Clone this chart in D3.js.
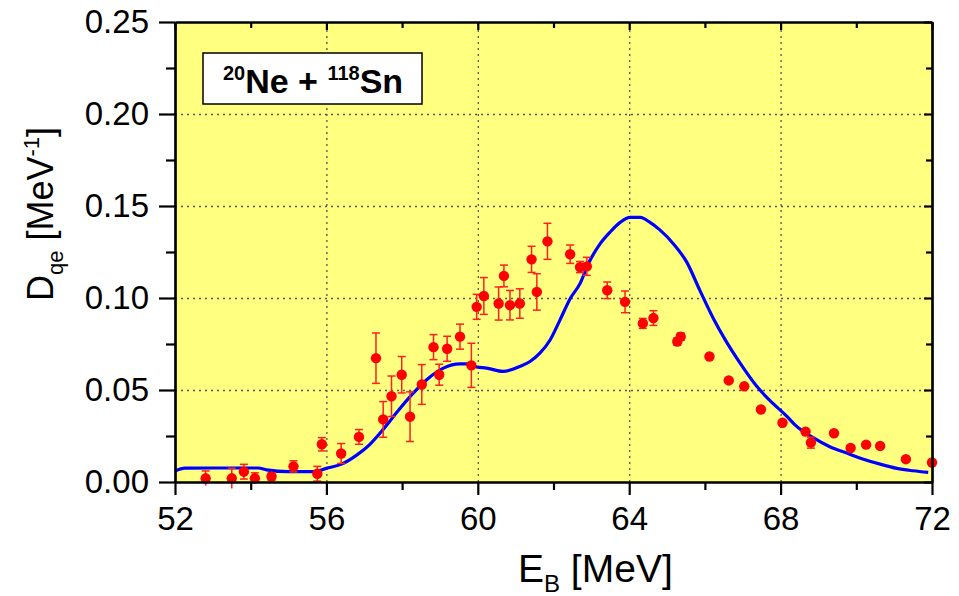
<!DOCTYPE html>
<html>
<head>
<meta charset="utf-8">
<script src="https://cdn.jsdelivr.net/npm/d3@7"></script>
<style>
  body { margin: 0; background: #fff; }
  svg text { font-family: "Liberation Sans", Arial, sans-serif; fill: #000; }
  .axis path, .axis line { stroke: #000; stroke-width: 2.2; }
  .axis text { font-size: 33px; }
  .grid line { stroke: #555; stroke-width: 1.3; stroke-dasharray: 2, 4; }
  .grid path { display: none; }
</style>
</head>
<body>
<div id="chart"></div>
<script>
// Experimental points (E_B in MeV, D_qe in 1/MeV, error)
var expE = [52.81, 53.50, 53.82, 54.11, 54.55, 55.13, 55.76, 55.88, 56.39, 56.86,
  57.31, 57.50, 57.72, 57.99, 58.21, 58.52, 58.83, 58.98, 59.19, 59.53,
  59.83, 59.97, 60.16, 60.55, 60.69, 60.85, 61.11, 61.42, 61.56, 61.84,
  62.44, 62.70, 62.88, 63.42, 63.89, 64.36, 64.64, 65.27, 65.36, 66.12,
  66.63, 67.04, 67.48, 68.05, 68.66, 68.80, 69.41, 69.85, 70.26, 70.63,
  71.31, 72.00];
var expD = [0.002, 0.002, 0.0056, 0.002, 0.003, 0.0085, 0.0045, 0.0205, 0.0155, 0.0245,
  0.0673, 0.034, 0.0466, 0.0583, 0.0355, 0.053, 0.0733, 0.0583, 0.0724, 0.079,
  0.0634, 0.0952, 0.1011, 0.097, 0.112, 0.0961, 0.097, 0.121, 0.1033, 0.1308,
  0.1238, 0.1168, 0.1172, 0.1042, 0.0979, 0.0862, 0.0891, 0.0763, 0.079, 0.0682,
  0.0552, 0.052, 0.0394, 0.0322, 0.0274, 0.0214, 0.0265, 0.0185, 0.0203, 0.0196,
  0.0124, 0.0106];
var expErr = [0.004, 0.0055, 0.004, 0.003, 0.002, 0.003, 0.004, 0.0036, 0.0054, 0.004,
  0.0137, 0.0097, 0.011, 0.0099, 0.0135, 0.0108, 0.0068, 0.0057, 0.0068, 0.0068,
  0.012, 0.0068, 0.010, 0.009, 0.0059, 0.008, 0.008, 0.0071, 0.0099, 0.0098,
  0.005, 0.003, 0.0049, 0.0045, 0.0059, 0.0027, 0.004, 0.002, 0.002, 0,
  0, 0, 0, 0, 0, 0.003, 0, 0, 0, 0,
  0, 0];

// Calculated curve
var calcE = [52.0, 52.26, 53.0, 54.2, 54.42, 55.0, 55.65, 56.0, 56.4, 56.8,
  57.15, 57.5, 57.85, 58.3, 58.65, 59.09, 59.53, 59.71, 59.97, 60.23,
  60.67, 61.11, 61.38, 61.64, 61.91, 62.17, 62.45, 62.70, 62.92, 63.23,
  63.49, 63.76, 64.02, 64.29, 64.55, 64.81, 65.17, 65.52, 65.87, 66.22,
  66.53, 66.93, 67.37, 67.72, 68.16, 68.38, 68.86, 69.30, 69.75, 70.19,
  70.63, 71.07, 71.5, 71.9];
var calcD = [0.006, 0.0075, 0.0076, 0.0076, 0.0066, 0.0056, 0.0056, 0.0074, 0.0097, 0.0146,
  0.0205, 0.0286, 0.0376, 0.0484, 0.0556, 0.0619, 0.0642, 0.0642, 0.0625, 0.0619,
  0.0601, 0.0628, 0.0655, 0.070, 0.0772, 0.088, 0.100, 0.1078, 0.1186, 0.1294,
  0.1357, 0.1411, 0.1438, 0.1438, 0.1411, 0.137, 0.1294, 0.1195, 0.104, 0.089,
  0.0775, 0.0646, 0.052, 0.0442, 0.0358, 0.031, 0.0241, 0.0192, 0.0157, 0.0124,
  0.0097, 0.0074, 0.0061, 0.0052];

var xTicks = [52, 56, 60, 64, 68, 72];
var xMinor = [54, 58, 62, 66, 70];
var yTicks = [0, 0.05, 0.10, 0.15, 0.20, 0.25];
var yMinor = [0.025, 0.075, 0.125, 0.175, 0.225];

var width = 959, height = 596;
var margins = { top: 22, right: 27, bottom: 114, left: 175 };
var chartWidth = width - margins.left - margins.right;
var chartHeight = height - margins.top - margins.bottom;

var svg = d3.select("#chart").append("svg")
  .attr("width", width)
  .attr("height", height);

var chart = svg.append("g")
  .attr("transform", "translate(" + margins.left + "," + margins.top + ")");

var xScale = d3.scaleLinear().domain([52, 72]).range([0, chartWidth]);
var yScale = d3.scaleLinear().domain([0, 0.25]).range([chartHeight, 0]);

// background
chart.append("rect")
  .attr("width", chartWidth)
  .attr("height", chartHeight)
  .attr("fill", "#ffff80");

// dotted grid
chart.append("g")
  .attr("class", "grid")
  .attr("transform", "translate(0," + chartHeight + ")")
  .call(d3.axisBottom(xScale).tickValues(xTicks.slice(1, -1)).tickSize(-chartHeight).tickFormat(""));
chart.append("g")
  .attr("class", "grid")
  .call(d3.axisLeft(yScale).tickValues(yTicks.slice(1, -1)).tickSize(-chartWidth).tickFormat(""));

// legend box
var legend = chart.append("g").attr("transform", "translate(28,31)");
legend.append("rect")
  .attr("width", 219)
  .attr("height", 51)
  .attr("fill", "#fff")
  .attr("stroke", "#000")
  .attr("stroke-width", 1.5);
var lt = legend.append("text")
  .attr("x", 110)
  .attr("y", 40)
  .attr("text-anchor", "middle")
  .style("font-weight", "bold")
  .style("font-size", "34px");
lt.append("tspan").attr("dy", "-13").style("font-size", "20px").text("20");
lt.append("tspan").attr("dy", "13").text("Ne + ");
lt.append("tspan").attr("dy", "-13").style("font-size", "20px").text("118");
lt.append("tspan").attr("dy", "13").text("Sn");

// calculated curve
var line = d3.line()
  .x(function(d) { return xScale(d[0]); })
  .y(function(d) { return yScale(d[1]); })
  .curve(d3.curveMonotoneX);

chart.append("path")
  .datum(d3.zip(calcE, calcD))
  .attr("fill", "none")
  .attr("stroke", "#0000ff")
  .attr("stroke-width", 3.2)
  .attr("d", line);

// experimental points
var pts = d3.range(expE.length).map(function(i) {
  return { e: expE[i], d: expD[i], err: expErr[i] };
});

var bars = chart.append("g").attr("class", "errbars")
  .selectAll("g")
  .data(pts.filter(function(d) { return d.err > 0; }))
  .enter().append("g")
  .attr("stroke", "#ff2020")
  .attr("stroke-width", 1.5);
bars.append("line")
  .attr("x1", function(d) { return xScale(d.e); })
  .attr("x2", function(d) { return xScale(d.e); })
  .attr("y1", function(d) { return yScale(d.d - d.err); })
  .attr("y2", function(d) { return yScale(d.d + d.err); });
bars.append("line")
  .attr("x1", function(d) { return xScale(d.e) - 4; })
  .attr("x2", function(d) { return xScale(d.e) + 4; })
  .attr("y1", function(d) { return yScale(d.d + d.err); })
  .attr("y2", function(d) { return yScale(d.d + d.err); });
bars.append("line")
  .attr("x1", function(d) { return xScale(d.e) - 4; })
  .attr("x2", function(d) { return xScale(d.e) + 4; })
  .attr("y1", function(d) { return yScale(Math.max(0, d.d - d.err)); })
  .attr("y2", function(d) { return yScale(Math.max(0, d.d - d.err)); });

chart.append("g").attr("class", "points")
  .selectAll("circle")
  .data(pts)
  .enter().append("circle")
  .attr("cx", function(d) { return xScale(d.e); })
  .attr("cy", function(d) { return yScale(d.d); })
  .attr("r", 5.2)
  .attr("fill", "#ff0000");

// axes: bottom & left outward, top & right inward
chart.append("g")
  .attr("class", "axis x bottom")
  .attr("transform", "translate(0," + chartHeight + ")")
  .call(d3.axisBottom(xScale).tickValues(xTicks).tickSize(13).tickSizeOuter(0).tickPadding(12).tickFormat(d3.format("d")));
chart.append("g")
  .attr("class", "axis x bottom minor")
  .attr("transform", "translate(0," + chartHeight + ")")
  .call(d3.axisBottom(xScale).tickValues(xMinor).tickSize(8).tickSizeOuter(0).tickFormat(""));
chart.append("g")
  .attr("class", "axis y left")
  .call(d3.axisLeft(yScale).tickValues(yTicks).tickSize(16).tickSizeOuter(0).tickPadding(10).tickFormat(d3.format(".2f")));
chart.append("g")
  .attr("class", "axis y left minor")
  .call(d3.axisLeft(yScale).tickValues(yMinor).tickSize(9).tickSizeOuter(0).tickFormat(""));
chart.append("g")
  .attr("class", "axis x top")
  .call(d3.axisBottom(xScale).tickValues(xTicks).tickSize(8).tickSizeOuter(0).tickFormat(""));
chart.append("g")
  .attr("class", "axis x top minor")
  .call(d3.axisBottom(xScale).tickValues(xMinor).tickSize(6).tickSizeOuter(0).tickFormat(""));
chart.append("g")
  .attr("class", "axis y right")
  .attr("transform", "translate(" + chartWidth + ",0)")
  .call(d3.axisLeft(yScale).tickValues(yTicks).tickSize(8).tickSizeOuter(0).tickFormat(""));
chart.append("g")
  .attr("class", "axis y right minor")
  .attr("transform", "translate(" + chartWidth + ",0)")
  .call(d3.axisLeft(yScale).tickValues(yMinor).tickSize(6).tickSizeOuter(0).tickFormat(""));

// axis titles
var xt = svg.append("text")
  .attr("x", 518)
  .attr("y", 582)
  .style("font-size", "39px");
xt.append("tspan").text("E");
xt.append("tspan").attr("dy", "10").style("font-size", "24px").text("B");
xt.append("tspan").attr("dy", "-10").text(" [MeV]");

var yt = svg.append("text")
  .attr("transform", "translate(53,301) rotate(-90)")
  .style("font-size", "36px");
yt.append("tspan").text("D");
yt.append("tspan").attr("dy", "10").style("font-size", "22px").text("qe");
yt.append("tspan").attr("dy", "-10").text(" [MeV");
yt.append("tspan").attr("dy", "-14").style("font-size", "22px").text("-1");
yt.append("tspan").attr("dy", "14").text("]");
</script>
</body>
</html>
